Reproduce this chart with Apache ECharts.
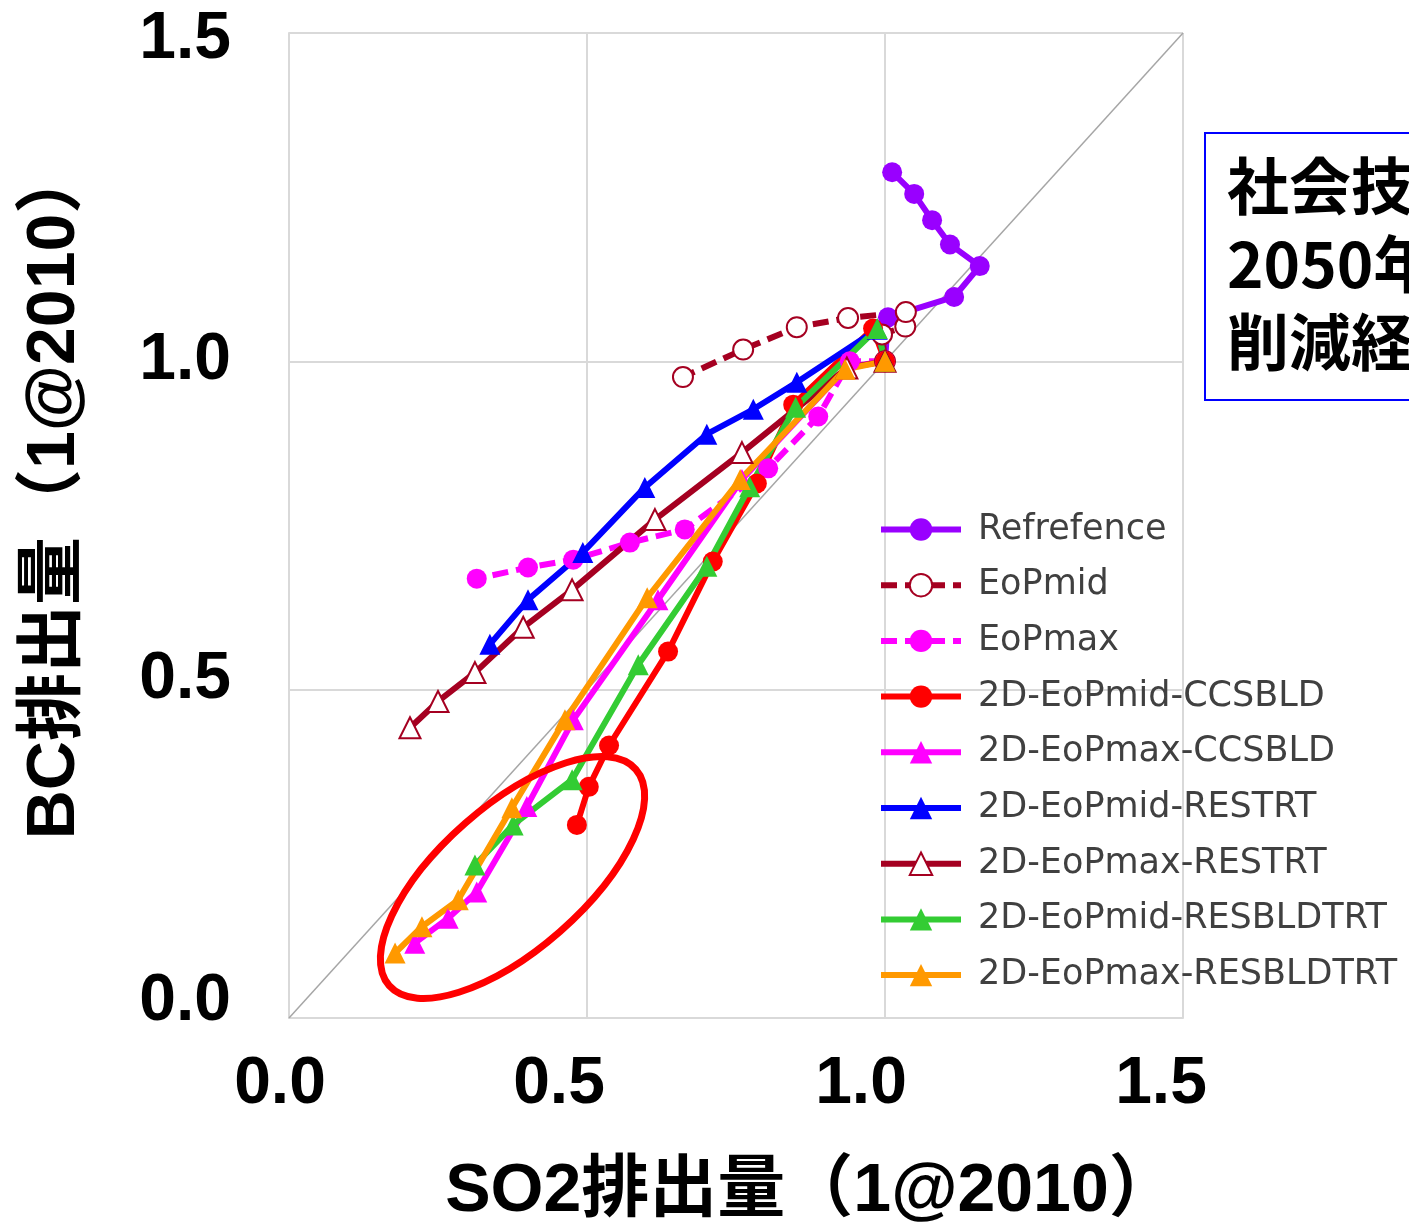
<!DOCTYPE html>
<html>
<head>
<meta charset="utf-8">
<script src="https://cdn.jsdelivr.net/npm/echarts@6/dist/echarts.min.js"></script>
<style>
  html, body { margin: 0; padding: 0; background: #fff; }
  #chart { width: 1409px; height: 1223px; }
</style>
</head>
<body>
<div id="chart"></div>
<script>
// [SO2, BC] pairs relative to 2010, 2010 -> 2050
const reference = [[1, 1], [1.005, 1.067], [1.116, 1.098], [1.159, 1.145], [1.109, 1.178], [1.079, 1.215], [1.049, 1.255], [1.012, 1.288]];
const eopMid = [[1, 1], [0.995, 1.041], [1.034, 1.053], [1.035, 1.075], [0.938, 1.066], [0.852, 1.052], [0.762, 1.018], [0.661, 0.976]];
const eopMax = [[1, 1], [0.941, 1.0], [0.888, 0.916], [0.804, 0.837], [0.664, 0.744], [0.572, 0.724], [0.477, 0.698], [0.401, 0.686], [0.315, 0.669]];
const midCCSBLD = [[1, 1], [0.98, 1.05], [0.846, 0.934], [0.785, 0.814], [0.711, 0.695], [0.636, 0.558], [0.537, 0.415], [0.503, 0.352], [0.483, 0.294]];
const maxCCSBLD = [[1, 1], [0.936, 0.991], [0.76, 0.82], [0.619, 0.637], [0.477, 0.454], [0.399, 0.322], [0.315, 0.192], [0.267, 0.152], [0.211, 0.114]];
const midRESTRT = [[1, 1], [0.987, 1.049], [0.852, 0.968], [0.779, 0.927], [0.701, 0.889], [0.597, 0.808], [0.493, 0.709], [0.401, 0.637], [0.337, 0.569]];
const maxRESTRT = [[1, 1], [0.936, 0.99], [0.76, 0.861], [0.614, 0.759], [0.475, 0.652], [0.393, 0.595], [0.312, 0.526], [0.25, 0.482], [0.203, 0.442]];
const midRESBLDTRT = [[1, 1], [0.987, 1.05], [0.85, 0.93], [0.773, 0.809], [0.701, 0.688], [0.586, 0.538], [0.475, 0.363], [0.376, 0.294], [0.312, 0.233]];
const maxRESBLDTRT = [[1, 1], [0.933, 0.988], [0.757, 0.82], [0.601, 0.64], [0.463, 0.454], [0.374, 0.32], [0.284, 0.18], [0.223, 0.139], [0.178, 0.099]];
const diagonal = [[0, 0], [1.5, 1.5]];

const axisTicks = [0, 0.5, 1.0, 1.5];
const boxLines = ["社会技術シナリオ", "2050年までの", "削減経路"];
const highlightCenter = [0.375, 0.214];

const tickFont = "'Liberation Sans', Arial, sans-serif";
const cjkFont = "'Liberation Sans', 'Noto Sans CJK JP', sans-serif";

// tick labels in the original sit a little off their grid lines
const xLabelPad = [[0, 18, 0, 0], [0, 56, 0, 0], [0, 48, 0, 0], [0, 44, 0, 0]];
const yLabelPad = [[0, 0, 32, 0], [0, 0, 20, 0], [0, 0, 2, 0], [14, 0, 0, 0]];

function tickRich(pads) {
  const rich = {};
  pads.forEach((p, i) => {
    rich["t" + i] = { padding: p, fontFamily: tickFont, fontSize: 66, fontWeight: "bold", color: "#000" };
  });
  return rich;
}

function tickFormatter(v) {
  const i = axisTicks.indexOf(v);
  return i < 0 ? "" : `{t${i}|${v.toFixed(1)}}`;
}

function lineSeries(name, data, color, symbol, opts = {}) {
  return {
    name,
    type: "line",
    data,
    symbol,
    symbolSize: symbol === "circle" ? 20 : 21,
    showSymbol: true,
    lineStyle: { color, width: 6, type: opts.dash ? [16, 8] : "solid" },
    itemStyle: {
      color: opts.hollow ? "#ffffff" : color,
      borderColor: color,
      borderWidth: opts.hollow ? 2 : 0
    },
    emphasis: { disabled: true },
    animation: false
  };
}

const chart = echarts.init(document.getElementById("chart"));

chart.setOption({
  backgroundColor: "#ffffff",
  animation: false,
  grid: { left: 289, right: 226, top: 33, bottom: 205, outerBoundsMode: "none", containLabel: false },
  xAxis: {
    type: "value",
    min: 0,
    max: 1.5,
    interval: 0.5,
    name: "SO2排出量（1@2010）",
    nameLocation: "middle",
    nameGap: 140,
    nameTextStyle: {
      fontFamily: cjkFont, fontSize: 68, fontWeight: "bold", color: "#000",
      padding: [0, 0, 0, 150]
    },
    axisLine: { lineStyle: { color: "#d9d9d9", width: 2 } },
    axisTick: { show: false },
    splitLine: { lineStyle: { color: "#d9d9d9", width: 2 } },
    axisLabel: {
      margin: 34,
      rich: tickRich(xLabelPad),
      formatter: tickFormatter
    }
  },
  yAxis: {
    type: "value",
    min: 0,
    max: 1.5,
    interval: 0.5,
    name: "BC排出量（1@2010）",
    nameLocation: "middle",
    nameGap: 200,
    nameTextStyle: {
      fontFamily: cjkFont, fontSize: 68, fontWeight: "bold", color: "#000",
      padding: [0, 0, 0, 66]
    },
    axisLine: { show: true, lineStyle: { color: "#d9d9d9", width: 2 } },
    axisTick: { show: false },
    splitLine: { lineStyle: { color: "#d9d9d9", width: 2 } },
    axisLabel: {
      margin: 58,
      rich: tickRich(yLabelPad),
      formatter: tickFormatter
    }
  },
  legend: {
    orient: "vertical",
    left: 873,
    top: 507,
    itemWidth: 80,
    itemHeight: 28,
    itemGap: 20.7,
    lineStyle: { width: 6 },
    textStyle: {
      fontFamily: "'DejaVu Sans', sans-serif",
      fontSize: 35,
      lineHeight: 34,
      color: "#404040",
      padding: [0, 0, 0, 12]
    },
    data: [
      "Refrefence", "EoPmid", "EoPmax",
      "2D-EoPmid-CCSBLD", "2D-EoPmax-CCSBLD",
      "2D-EoPmid-RESTRT", "2D-EoPmax-RESTRT",
      "2D-EoPmid-RESBLDTRT", "2D-EoPmax-RESBLDTRT"
    ]
  },
  series: [
    {
      name: "diagonal",
      type: "line",
      data: diagonal,
      symbol: "none",
      silent: true,
      z: 1,
      lineStyle: { color: "#a6a6a6", width: 1.5 }
    },
    lineSeries("Refrefence", reference, "#9900ff", "circle"),
    lineSeries("EoPmid", eopMid, "#a50021", "circle", { dash: true, hollow: true }),
    lineSeries("EoPmax", eopMax, "#ff00ff", "circle", { dash: true }),
    lineSeries("2D-EoPmid-CCSBLD", midCCSBLD, "#ff0000", "circle"),
    lineSeries("2D-EoPmax-CCSBLD", maxCCSBLD, "#ff00ff", "triangle"),
    lineSeries("2D-EoPmid-RESTRT", midRESTRT, "#0000ff", "triangle"),
    lineSeries("2D-EoPmax-RESTRT", maxRESTRT, "#a50021", "triangle", { hollow: true }),
    lineSeries("2D-EoPmid-RESBLDTRT", midRESBLDTRT, "#33cc33", "triangle"),
    lineSeries("2D-EoPmax-RESBLDTRT", maxRESBLDTRT, "#ff9900", "triangle")
  ]
});

const c = chart.convertToPixel({ gridIndex: 0 }, highlightCenter);

chart.setOption({
  graphic: [
    {
      type: "ellipse",
      x: c[0],
      y: c[1],
      rotation: 0.72,
      shape: { cx: 0, cy: 0, rx: 164, ry: 72 },
      style: { fill: "none", stroke: "#ff0000", lineWidth: 7 },
      z: 100
    },
    {
      type: "group",
      left: 1204,
      top: 132,
      children: [
        {
          type: "rect",
          shape: { x: 0, y: 0, width: 320, height: 267 },
          style: { fill: "#ffffff", stroke: "#0000ff", lineWidth: 2 }
        },
        ...boxLines.map((t, i) => ({
          type: "text",
          x: 22,
          y: 22 + i * 78,
          style: {
            text: t,
            fontFamily: "'Noto Sans CJK JP', sans-serif",
            fontSize: 62,
            fontWeight: "bold",
            fill: "#000"
          }
        }))
      ]
    }
  ]
});
</script>
</body>
</html>
